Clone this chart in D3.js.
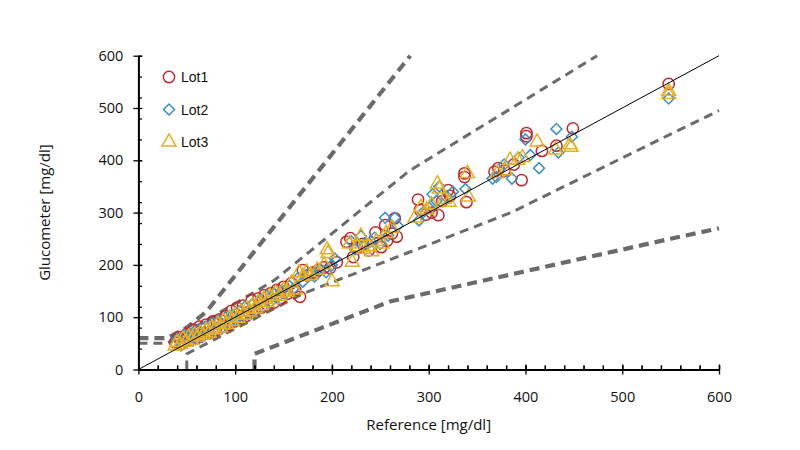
<!DOCTYPE html>
<html>
<head>
<meta charset="utf-8">
<script src="https://cdn.jsdelivr.net/npm/d3@7"></script>
<style>
  body { margin:0; background:#fff; }
  svg text { font-family:"Open Sans","Noto Sans",sans-serif; fill:#111; }
  .legend text { font-family:"Liberation Sans",Arial,sans-serif; }
</style>
</head>
<body>
<div id="chart"></div>
<script>
/* ---------- DATA ---------- */
const LOTS = ["Lot1","Lot2","Lot3"];
const X_TICKS = [0,100,200,300,400,500,600];
const Y_TICKS = [0,100,200,300,400,500,600];

// [reference, glucometer]
const lot1 = [
  [38,52],[42,62],[46,50],[50,68],[53,55],[57,76],[60,60],[63,82],[66,66],[70,86],
  [73,70],[77,92],[80,75],[84,96],[87,82],[90,102],[93,85],[96,112],[99,92],[102,118],
  [105,98],[108,122],[111,102],[114,110],[117,132],[120,112],[124,136],[127,118],[130,142],[133,124],
  [137,146],[140,128],[143,152],[147,136],[150,158],[154,145],[158,165],[162,152],[167,139],[170,190],
  [175,180],[180,185],[186,190],[192,195],[198,194],[205,205],
  [215,244],[219,251],[222,215],[226,232],[232,240],[238,228],[245,262],[251,234],[255,276],[257,246],
  [262,260],[265,289],[267,254],[289,325],[291,305],[297,296],[303,300],[310,295],[314,322],[320,343],
  [322,332],[337,375],[337,368],[339,320],[368,378],[372,385],[378,380],[388,392],[396,362],[401,452],
  [401,446],[417,418],[432,428],[449,461],[548,546]
];
const lot2 = [
  [40,58],[44,46],[48,66],[52,55],[56,70],[59,58],[62,76],[66,62],[69,82],[72,70],
  [76,88],[79,74],[83,94],[86,78],[90,100],[94,88],[97,104],[100,94],[104,112],[107,98],
  [111,122],[114,106],[118,126],[121,112],[125,132],[129,120],[132,142],[136,128],[140,145],[144,138],
  [148,150],[152,146],[156,160],[160,154],[165,175],[170,168],[176,184],[182,178],[188,192],[194,186],
  [200,200],[203,212],
  [220,245],[224,230],[230,255],[234,238],[240,245],[244,252],[250,240],[255,290],[258,256],[265,290],
  [268,275],[290,285],[294,300],[300,310],[304,335],[308,322],[311,350],[318,330],[325,340],[338,345],
  [366,365],[370,368],[378,392],[386,365],[393,405],[400,440],[405,410],[414,385],[432,460],[434,415],
  [448,445],[548,518]
];
const lot3 = [
  [38,45],[40,52],[43,48],[46,58],[49,52],[52,62],[55,56],[58,66],[61,62],[64,70],
  [67,66],[70,75],[73,70],[76,80],[79,76],[82,86],[85,80],[88,92],[91,86],[94,98],
  [97,92],[100,104],[103,98],[106,110],[109,104],[112,116],[115,110],[118,122],[121,116],[124,128],
  [127,122],[130,135],[133,128],[136,140],[139,134],[142,146],[146,140],[150,152],[154,148],[158,165],
  [162,152],[166,185],[170,178],[174,186],[178,180],[185,190],[192,200],[195,229],[196,222],[200,168],
  [218,240],[221,205],[226,235],[230,255],[233,230],[238,235],[241,225],[246,245],[252,240],[256,260],
  [262,270],[286,290],[292,310],[298,305],[303,315],[309,355],[311,345],[316,325],[321,320],[340,375],
  [341,330],[371,375],[379,380],[384,400],[392,400],[397,405],[412,435],[431,420],[447,425],[446,430],
  [548,532],[548,526]
];

// error grid boundaries (zone A thin dashes, zone B thick dashes)
const zoneAUpper = [[0,50],[30,50],[140,170],[280,380],[430,550],[474,600]];
const zoneALower = [[50,0],[50,30],[170,145],[385,300],[550,450],[600,495]];
const zoneBUpper = [[0,60],[30,60],[50,80],[70,110],[281,600]];
const zoneBLower = [[120,0],[120,30],[260,130],[550,250],[600,270]];
const identity   = [[0,0],[600,600]];

/* ---------- LAYOUT ---------- */
const W=800, H=450;
const X0=138.4, X1=719, Y0=369.5, Y1=55.7;
const COLORS = {Lot1:"#c4262e", Lot2:"#3a8ec8", Lot3:"#e5b020"};
const GRID_COLOR = "#6b6b6b";

const svg = d3.select("#chart").append("svg").attr("width",W).attr("height",H);

const x = d3.scaleLinear().domain([0,600]).range([X0,X1]);
const y = d3.scaleLinear().domain([0,600]).range([Y0,Y1]);
const line = d3.line().x(d=>x(d[0])).y(d=>y(d[1]));

/* ---------- ERROR GRID ---------- */
const gridG = svg.append("g");
[[zoneAUpper,3,"9,6"],[zoneALower,3,"9,6"],[zoneBUpper,4.2,"10,6"],[zoneBLower,4.2,"10,6"]]
  .forEach(([pts,w,dash])=>{
    gridG.append("path").attr("d",line(pts)).attr("fill","none")
      .attr("stroke",GRID_COLOR).attr("stroke-width",w).attr("stroke-dasharray",dash);
  });

/* ---------- POINTS ---------- */
const symCircle = d3.symbol().type(d3.symbolCircle).size(100);
const symDiamond = d3.symbol().type(d3.symbolSquare).size(60);
const symTri = d3.symbol().type(d3.symbolTriangle).size(85);

function drawLot(data, lot, sym, rot){
  svg.append("g").selectAll("path").data(data).enter().append("path")
    .attr("d",sym)
    .attr("transform",d=>`translate(${x(d[0])},${y(d[1])})${rot?` rotate(${rot})`:""}`)
    .attr("fill","none").attr("stroke",COLORS[lot]).attr("stroke-width",1.5);
}
drawLot(lot1,"Lot1",symCircle,0);
drawLot(lot2,"Lot2",symDiamond,45);
drawLot(lot3,"Lot3",symTri,0);

/* identity line */
svg.append("path").attr("d",line(identity)).attr("fill","none")
  .attr("stroke","#000").attr("stroke-width",1);

/* ---------- AXES ---------- */
const xMinor = d3.axisTop(x).tickValues(d3.range(0,601,20)).tickSize(4).tickFormat("");
const xMajor = d3.axisBottom(x).tickValues(X_TICKS).tickSize(5).tickSizeOuter(0).tickPadding(17);
const yMinor = d3.axisRight(y).tickValues(d3.range(0,601,40)).tickSize(3.5).tickFormat("");
const yMajor = d3.axisLeft(y).tickValues(Y_TICKS).tickSize(5).tickSizeOuter(0).tickPadding(10);

function styleAxis(g){
  g.select(".domain").attr("stroke","#000").attr("stroke-width",2);
  g.selectAll(".tick line").attr("stroke","#000").attr("stroke-width",1.3);
  g.selectAll(".tick text").style("font-size","14.5px").attr("fill","#111");
}
svg.append("g").attr("transform",`translate(0,${Y0})`).call(xMinor).call(styleAxis)
  .select(".domain").remove();
svg.append("g").attr("transform",`translate(0,${Y0})`).call(xMajor).call(styleAxis)
  .selectAll(".tick line").attr("y1",-5);
svg.append("g").attr("transform",`translate(0,${Y0})`).call(xMinor).call(styleAxis)
  .select(".domain").remove();
svg.append("g").attr("transform",`translate(${X0},0)`).call(yMinor).call(styleAxis)
  .select(".domain").remove();
svg.append("g").attr("transform",`translate(${X0},0)`).call(yMajor).call(styleAxis)
  .selectAll(".tick line").attr("x1",4);

svg.append("text").attr("x",(X0+X1)/2).attr("y",430).attr("text-anchor","middle")
  .style("font-size","15px").text("Reference [mg/dl]");
svg.append("text").attr("transform",`translate(50,${(Y0+Y1)/2}) rotate(-90)`)
  .attr("text-anchor","middle").style("font-size","15px").text("Glucometer [mg/dl]");

/* ---------- LEGEND ---------- */
const leg = svg.append("g").attr("class","legend");
const syms = [symCircle, symDiamond, symTri];
LOTS.forEach((lot,i)=>{
  const yy = 77 + i*32.5;
  leg.append("path").attr("d",syms[i])
    .attr("transform",`translate(169,${yy})${i===1?" rotate(45)":""}`)
    .attr("fill","none").attr("stroke",COLORS[lot]).attr("stroke-width",1.5);
  leg.append("text").attr("x",181).attr("y",yy+5).style("font-size","14px").text(lot);
});
</script>
</body>
</html>
